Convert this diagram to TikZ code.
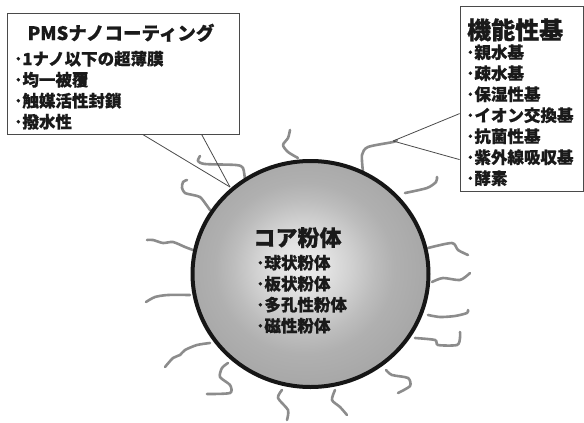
\documentclass[tikz,border=0pt]{standalone}
\usepackage{fontspec}
\setmainfont{Noto Sans CJK JP}[BoldFeatures={FakeBold=0.6}]
\usetikzlibrary{shapes.geometric,calc}
\definecolor{txt}{HTML}{1A1A1A}
\definecolor{sq}{HTML}{8C8C8C}
\definecolor{frame}{HTML}{4A4A4A}
\definecolor{rim}{HTML}{161616}
\pgfdeclareradialshading{coreshade}{\pgfpoint{-2bp}{2bp}}{color(0bp)=(gray!15);color(5bp)=(gray!22);color(10bp)=(gray!36);color(15bp)=(gray!52);color(19bp)=(gray!62);color(25bp)=(gray!68);color(50bp)=(gray!68)}
\tikzset{
  squig/.style={draw=sq, line width=2.6pt, line cap=round, line join=round},
  callbox/.style={draw=frame, fill=white, line width=0.8pt, inner sep=0pt},
  callline/.style={draw=frame, line width=0.8pt},
  ttl/.style={font=\bfseries\fontsize{18.5}{22}\selectfont, text=txt, inner sep=0pt},
  bul/.style={anchor=base west, font=\bfseries\fontsize{16.5}{20}\selectfont, text=txt, inner sep=0pt},
}
\begin{document}
\begin{tikzpicture}[x=1pt,y=-1pt]
\useasboundingbox (0,0) rectangle (584,423);
% squiggles
\foreach \p [count=\i] in {
 {(245,180) (243,168) (236,165) (205,164) (198,161) (200,156)},
 {(210,210) (205,203) (200,197) (193,195) (185,193) (182,188) (183,182) (187,180)},
 {(193,250) (185,247) (173,242) (163,243) (153,240) (147,240)},
 {(190,295) (168,295) (155,297) (146,302)},
 {(210,343) (197,345) (185,350) (180,355) (173,358) (165,367)},
 {(228,363) (222,368) (220,377) (230,385) (230,393) (207,394)},
 {(282,390) (278,398) (288,410) (287,420)},
 {(335,390) (332,400) (340,407) (347,415)},
 {(386,370) (392,375) (408,378) (410,386) (398,393)},
 {(415,338) (435,340) (438,345) (457,345) (460,338) (460,332)},
 {(428,315) (440,317) (455,316) (467,313) (468,310)},
 {(432,282) (443,278) (460,280) (470,273)},
 {(428,248) (452,243) (458,250) (468,255)},
 {(405,193) (427,188) (436,182) (437,177)},
 {(363,172) (362,155) (368,147) (393,142) (397,140)},
 {(298,158) (288,152) (283,145) (288,138) (290,130)}}
 { \draw[squig] plot[smooth, tension=0.45] coordinates {\p}; }
% core
\node[ellipse, draw=rim, line width=4pt, shading=coreshade, minimum width=236pt, minimum height=226pt, inner sep=0pt] (core) at (310.5,274) {};
\node[font=\bfseries\fontsize{22}{26}\selectfont, text=txt, inner sep=0pt, anchor=base] (coret) at (297.5,246) {コア粉体};
\node[bul] (c1) at (256,269) {･球状粉体};
\node[bul] (c2) at (256,290) {･板状粉体};
\node[bul] (c3) at (256,311) {･多孔性粉体};
\node[bul] (c4) at (256,332) {･磁性粉体};
% left callout
\coordinate (ltip) at (230,187);
\node[callbox, minimum width=232pt, minimum height=121pt] (lbox) at (123,73.5) {};
\draw[callline] ($(lbox.south west)+(136,0)$) -- (ltip);
\draw[callline] ($(lbox.south west)+(195,0)$) -- (ltip);
\node[ttl, anchor=base] (lt) at (121,40) {PMSナノコーティング};
\node[bul] (l1) at (14,65) {･1ナノ以下の超薄膜};
\node[bul] (l2) at (14,86) {･均一被覆};
\node[bul] (l3) at (14,107) {･触媒活性封鎖};
\node[bul] (l4) at (14,128) {･撥水性};
% right callout
\coordinate (rtip) at (393,141);
\node[callbox, minimum width=123pt, minimum height=185pt] (rbox) at (521.5,98.5) {};
\draw[callline] ($(rbox.north west)+(0,108)$) -- (rtip);
\draw[callline] ($(rbox.north west)+(0,154)$) -- (rtip);
\node[font=\bfseries\fontsize{24}{28}\selectfont, text=txt, inner sep=0pt, anchor=base west] (rt) at (467,39) {機能性基};
\node[bul] (r1) at (466,58.5) {･親水基};
\node[bul] (r2) at (466,79.5) {･疎水基};
\node[bul] (r3) at (466,100.5) {･保湿性基};
\node[bul] (r4) at (466,121.5) {･イオン交換基};
\node[bul] (r5) at (466,142.5) {･抗菌性基};
\node[bul] (r6) at (466,163.5) {･紫外線吸収基};
\node[bul] (r7) at (466,184.5) {･酵素};
\end{tikzpicture}
\end{document}
